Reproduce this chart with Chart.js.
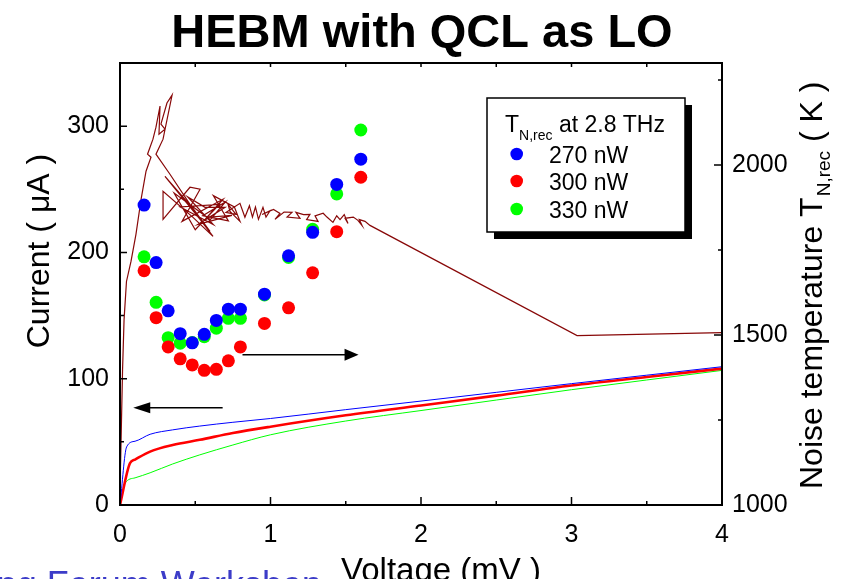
<!DOCTYPE html>
<html><head><meta charset="utf-8">
<script src="https://cdn.jsdelivr.net/npm/chart.js@4.4.0/dist/chart.umd.min.js"></script>
<style>html,body{margin:0;padding:0;background:#fff;overflow:hidden}canvas{display:block}</style>
</head><body>
<canvas id="c" width="845" height="579"></canvas>
<script>
const FONT = "'Liberation Sans', Arial, Helvetica, sans-serif";

// ---- text ----
const chartTitle = 'HEBM with QCL as LO';
const xTitle = 'Voltage (mV )';
const yTitle = 'Current ( \u03BCA )';
const y2TitleMain = 'Noise temperature T';
const y2TitleSub = 'N,rec';
const y2TitleEnd = ' ( K )';
const legendHead = 'T';
const legendHeadSub = 'N,rec';
const legendHeadEnd = ' at 2.8 THz';
const footerText = 'ng Forum Workshop';

// ---- noise temperature points (right axis, K) ----
const voltsT = [0.16, 0.24, 0.32, 0.40, 0.48, 0.56, 0.64, 0.72, 0.80, 0.96, 1.12, 1.28, 1.44, 1.60];
const tn270 = [1882, 1713, 1571, 1504, 1477, 1502, 1543, 1576, 1576, 1620, 1733, 1802, 1943, 2017];
const tn300 = [1689, 1551, 1465, 1430, 1412, 1396, 1399, 1424, 1465, 1534, 1580, 1683, 1804, 1964];
const tn330 = [1730, 1596, 1492, 1476, 1478, 1495, 1520, 1549, 1549, 1618, 1728, 1811, 1915, 2103];
const seriesLabels = ['270 nW', '300 nW', '330 nW'];

// ---- pumped IV curves (left axis, uA) ----
const ivVolt270 = [0, 0.044, 0.1, 0.2, 0.35, 0.53, 0.75, 1.0, 1.5, 2.0, 2.5, 3.0, 3.5, 4.0];
const iv270 =     [0, 46, 50.5, 56, 59.5, 62.5, 65.5, 68.5, 75.5, 82.3, 89.2, 96.1, 102.8, 109.5];
const ivVolt300 = [0, 0.066, 0.1, 0.2, 0.35, 0.53, 0.75, 1.0, 1.5, 2.0, 2.5, 3.0, 3.5, 4.0];
const iv300 =     [0, 33, 36, 42.3, 47.5, 51.6, 57, 62, 71, 78.8, 86.6, 94.6, 101.4, 108];
const ivVolt330 = [0, 0.033, 0.1, 0.2, 0.35, 0.53, 0.75, 1.0, 1.5, 2.0, 2.5, 3.0, 3.5, 4.0];
const iv330 =     [0, 17, 21.5, 25.5, 32.5, 39.7, 47.5, 55.6, 66.5, 74.8, 83.1, 91.3, 99, 106.6];

// ---- unpumped IV curve (left axis, uA), in recorded order ----
const unpumpedV = [0, 0.003, 0.010, 0.017, 0.027, 0.043, 0.073, 0.106, 0.140, 0.173,
  0.206, 0.183, 0.219, 0.239, 0.266, 0.259, 0.299, 0.272, 0.312, 0.346,
  0.286, 0.239, 0.332, 0.465, 0.598, 0.432, 0.299, 0.532, 0.618, 0.485,
  0.286, 0.286, 0.465, 0.532, 0.412, 0.684, 0.578, 0.744, 0.518, 0.698,
  0.565, 0.45, 0.62, 0.40, 0.66, 0.50, 0.36, 0.60, 0.70, 0.55,
  0.72, 0.62, 0.76, 0.797, 0.731, 0.718, 0.771, 0.704,
  0.797, 0.83, 0.86, 0.88, 0.90, 0.92, 0.95, 0.97, 0.997, 0.944,
  1.02, 1.063, 1.03, 1.09, 1.143, 1.11, 1.196, 1.169, 1.22, 1.262,
  1.24, 1.316, 1.296, 1.35, 1.375, 1.415, 1.44, 1.462, 1.49, 1.515,
  1.495, 1.55, 1.581, 1.608, 1.59, 1.628, 1.661,
  3.037, 4.0];
const unpumpedI = [0, 27.8, 67.5, 107, 146.8, 177, 192.9, 214.3, 242, 264.3,
  275.4, 277.8, 289.7, 299.2, 315.9, 293.7, 297.6, 301.6, 318.3, 324.6,
  289.7, 277.8, 261.9, 238.1, 216.7, 242.1, 260.3, 226.2, 212.7, 227.8,
  248.4, 226.2, 251.6, 250, 224.6, 242.1, 227.8, 229.4, 222.2, 235.7,
  235.7, 244, 222, 236, 238, 218, 247, 226, 240, 229,
  225, 245, 236, 224.6, 232.5, 238.1, 230.2, 231.7,
  238.9, 227.8, 237, 228, 236, 226.2, 235.7, 228, 233, 230,
  234, 230.9, 226.2, 232, 231.7, 228, 227, 231.7, 230, 230.2,
  226, 224.6, 229, 231, 228, 223.8, 229, 226, 230, 223,
  227, 228, 225.4, 221.4, 226, 224.6, 221.4,
  134.1, 136.5];

// ---- axes ----
const xRange = [0, 4];
const yRange = [0, 350];
const y2Range = [1000, 2300];
const xTickVals = [0, 0.5, 1, 1.5, 2, 2.5, 3, 3.5, 4];
const yTickVals = [0, 50, 100, 150, 200, 250, 300, 350];
const y2TickVals = [1000, 1250, 1500, 1750, 2000, 2250];

// ---- annotation arrows (data coords) ----
const arrowLeft = {from: 0.682, to: 0.088, at: 77, axis: 'y'};
const arrowRight = {from: 0.814, to: 1.585, at: 1442, axis: 'y2'};

const colors = ['#0000ff', '#ff0000', '#00ff00'];
const darkRed = '#880808';

const pts = (xs, ys) => xs.map((x, i) => ({x: x, y: ys[i]}));

function scatterSet(label, vals, color) {
  return {label, data: pts(voltsT, vals), yAxisID: 'y2', showLine: false,
    pointRadius: 6.5, pointHoverRadius: 6.5, backgroundColor: color, borderWidth: 0, pointBorderWidth: 0};
}
function lineSet(label, xs, ys, color, w, mono) {
  return {label, data: pts(xs, ys), yAxisID: 'y', showLine: true, pointRadius: 0,
    borderColor: color, borderWidth: w, backgroundColor: color, fill: false,
    cubicInterpolationMode: mono ? 'monotone' : 'default', tension: 0};
}

const frame = {
  id: 'frame',
  afterDraw(chart) {
    const ctx = chart.ctx, a = chart.chartArea;
    const xs = chart.scales.x, ys = chart.scales.y, y2 = chart.scales.y2;
    ctx.save();
    function arrow(def, headLen, halfW) {
      const sc = chart.scales[def.axis];
      const y = sc.getPixelForValue(def.at);
      const x1 = xs.getPixelForValue(def.from), x2 = xs.getPixelForValue(def.to);
      const dir = Math.sign(x2 - x1);
      ctx.strokeStyle = '#000'; ctx.lineWidth = 1.5;
      ctx.beginPath(); ctx.moveTo(x1, y); ctx.lineTo(x2 - dir * headLen * 0.8, y); ctx.stroke();
      ctx.fillStyle = '#000';
      ctx.beginPath(); ctx.moveTo(x2, y); ctx.lineTo(x2 - dir * headLen, y - halfW);
      ctx.lineTo(x2 - dir * headLen, y + halfW); ctx.closePath(); ctx.fill();
    }
    arrow(arrowLeft, 17, 5.5);
    arrow(arrowRight, 14, 6);

    ctx.strokeStyle = '#000'; ctx.lineWidth = 2;
    ctx.strokeRect(a.left, a.top, a.right - a.left, a.bottom - a.top);
    ctx.lineWidth = 1.5;
    ctx.beginPath();
    xTickVals.forEach(v => {
      const px = xs.getPixelForValue(v);
      const major = Number.isInteger(v);
      ctx.moveTo(px, a.bottom); ctx.lineTo(px, a.bottom - (major ? 8 : 4));
      ctx.moveTo(px, a.top); ctx.lineTo(px, a.top + 4);
    });
    yTickVals.forEach(v => {
      const py = ys.getPixelForValue(v);
      ctx.moveTo(a.left, py); ctx.lineTo(a.left + (v % 100 === 0 ? 7 : 4), py);
    });
    y2TickVals.forEach(v => {
      const py = y2.getPixelForValue(v);
      ctx.moveTo(a.right, py); ctx.lineTo(a.right - (v % 500 === 0 ? 8 : 4), py);
    });
    ctx.stroke();

    ctx.fillStyle = '#000';
    ctx.font = 'bold 47px ' + FONT;
    ctx.textAlign = 'center'; ctx.textBaseline = 'alphabetic';
    ctx.fillText(chartTitle, 422, 47);
    ctx.font = '33px ' + FONT;
    ctx.fillText(xTitle, 441, 581);
    ctx.save();
    ctx.translate(49, 251); ctx.rotate(-Math.PI / 2);
    ctx.font = '32px ' + FONT; ctx.textAlign = 'center';
    ctx.fillText(yTitle, 0, 0);
    ctx.restore();
    ctx.save();
    ctx.translate(822, 489); ctx.rotate(-Math.PI / 2);
    ctx.textAlign = 'left';
    ctx.font = '32px ' + FONT;
    ctx.fillText(y2TitleMain, 0, 0);
    let w = ctx.measureText(y2TitleMain).width;
    ctx.font = '19px ' + FONT;
    ctx.fillText(y2TitleSub, w + 1, 8);
    w += ctx.measureText(y2TitleSub).width + 1;
    ctx.font = '32px ' + FONT;
    ctx.fillText(y2TitleEnd, w, 0);
    ctx.restore();

    const L = 487, T = 98, R = 685, B = 232;
    ctx.fillStyle = '#000';
    ctx.fillRect(L + 7, T + 7, R - L, B - T);
    ctx.fillStyle = '#fff';
    ctx.fillRect(L, T, R - L, B - T);
    ctx.strokeStyle = '#000'; ctx.lineWidth = 1.5;
    ctx.strokeRect(L, T, R - L, B - T);
    ctx.fillStyle = '#000'; ctx.textAlign = 'left';
    ctx.font = '23px ' + FONT;
    ctx.fillText(legendHead, 505, 131.5);
    let lw = 505 + ctx.measureText(legendHead).width;
    ctx.font = '14px ' + FONT;
    ctx.fillText(legendHeadSub, lw, 140);
    lw += ctx.measureText(legendHeadSub).width;
    ctx.font = '23px ' + FONT;
    ctx.fillText(legendHeadEnd, lw, 131.5);
    const rows = [[154, 162.5], [181, 190], [209, 218.3]];
    chart.data.datasets.slice(0, 3).forEach((ds, i) => {
      ctx.fillStyle = ds.backgroundColor;
      ctx.beginPath(); ctx.arc(516.7, rows[i][0], 6.3, 0, Math.PI * 2); ctx.fill();
      ctx.fillStyle = '#000';
      ctx.fillText(ds.label, 549, rows[i][1]);
    });

    ctx.fillStyle = '#3c3cc8';
    ctx.font = '36px ' + FONT;
    const pre = ctx.measureText('ng ').width;
    ctx.fillText(footerText, 46.7 - pre, 597);
    ctx.restore();
  }
};

const setTicks = vals => (s => { s.ticks = vals.map(v => ({value: v})); });

new Chart(document.getElementById('c'), {
  type: 'scatter',
  data: {
    datasets: [
      scatterSet(seriesLabels[0], tn270, colors[0]),
      scatterSet(seriesLabels[1], tn300, colors[1]),
      scatterSet(seriesLabels[2], tn330, colors[2]),
      lineSet('unpumped', unpumpedV, unpumpedI, darkRed, 1.2, false),
      lineSet('IV 270 nW', ivVolt270, iv270, colors[0], 1, true),
      lineSet('IV 300 nW', ivVolt300, iv300, colors[1], 2.6, true),
      lineSet('IV 330 nW', ivVolt330, iv330, colors[2], 1, true)
    ]
  },
  options: {
    responsive: false, devicePixelRatio: 1, animation: false,
    layout: {padding: {top: 63, left: 0, right: 0, bottom: 0}},
    plugins: {legend: {display: false}, title: {display: false}, tooltip: {enabled: false}},
    scales: {
      x: {type: 'linear', position: 'bottom', min: xRange[0], max: xRange[1],
        grid: {display: false, drawTicks: false}, border: {display: false},
        afterBuildTicks: setTicks(xTickVals),
        ticks: {autoSkip: false, maxRotation: 0, padding: 15, color: '#000',
          font: {family: FONT, size: 25},
          callback: v => (Number.isInteger(v) ? String(v) : '')},
        afterFit: s => { s.height = 74; }},
      y: {type: 'linear', position: 'left', min: yRange[0], max: yRange[1],
        grid: {display: false, drawTicks: false}, border: {display: false},
        afterBuildTicks: setTicks(yTickVals),
        ticks: {autoSkip: false, padding: 11, color: '#000',
          font: {family: FONT, size: 25},
          callback: v => (v % 100 === 0 ? String(v) : '')},
        afterFit: s => { s.width = 120; }},
      y2: {type: 'linear', position: 'right', min: y2Range[0], max: y2Range[1],
        grid: {display: false, drawTicks: false}, border: {display: false},
        afterBuildTicks: setTicks(y2TickVals),
        ticks: {autoSkip: false, padding: 10, color: '#000',
          font: {family: FONT, size: 25},
          callback: v => (v % 500 === 0 ? String(v) : '')},
        afterFit: s => { s.width = 123; }}
    }
  },
  plugins: [frame]
});
</script>
</body></html>
